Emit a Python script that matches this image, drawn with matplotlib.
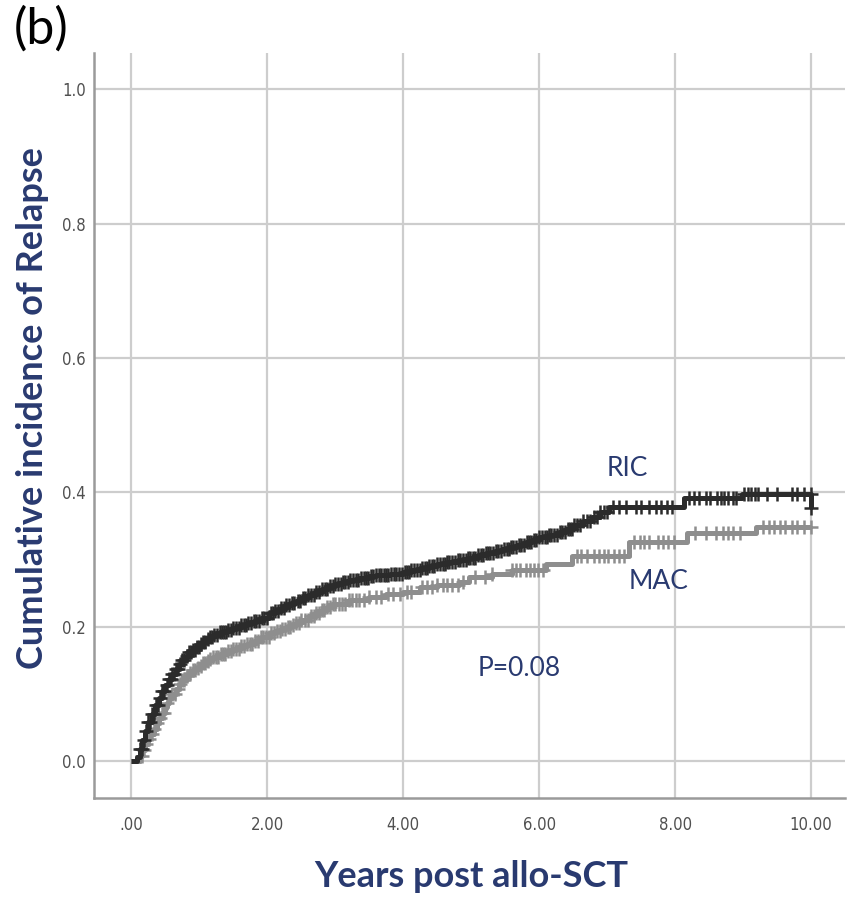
import numpy as np
import matplotlib.pyplot as plt

# cumulative incidence of relapse, step knots (years, incidence)
ric_times = [0.0, 0.05, 0.08, 0.12, 0.16, 0.2, 0.25, 0.3, 0.35, 0.4, 0.45, 0.5, 0.55, 0.6,
             0.65, 0.7, 0.75, 0.8, 0.85, 0.9, 0.95, 1.0, 1.05, 1.1, 1.15, 1.2, 1.3, 1.4,
             1.5, 1.6, 1.7, 1.8, 1.9, 2.03, 2.12, 2.2, 2.28, 2.35, 2.42, 2.5, 2.6, 2.7,
             2.8, 2.9, 3.0, 3.1, 3.2, 3.35, 3.5, 3.6, 3.8, 4.0, 4.12, 4.25, 4.38, 4.5,
             4.65, 4.8, 4.95, 5.1, 5.22, 5.35, 5.45, 5.56, 5.68, 5.8, 5.9, 6.0, 6.15, 6.29,
             6.4, 6.5, 6.65, 6.78, 6.9, 7.03, 8.13, 8.99, 10.0]
ric_cif = [0.0, 0.0, 0.006, 0.018, 0.032, 0.045, 0.058, 0.07, 0.083, 0.094, 0.104, 0.113, 0.122, 0.13,
           0.137, 0.144, 0.151, 0.157, 0.162, 0.166, 0.17, 0.174, 0.178, 0.181, 0.184, 0.187, 0.192, 0.195,
           0.198, 0.202, 0.205, 0.209, 0.213, 0.22, 0.224, 0.228, 0.232, 0.236, 0.239, 0.243, 0.247, 0.251,
           0.256, 0.26, 0.264, 0.267, 0.27, 0.273, 0.275, 0.277, 0.279, 0.282, 0.285, 0.288, 0.29, 0.293,
           0.296, 0.299, 0.303, 0.307, 0.31, 0.313, 0.315, 0.318, 0.322, 0.326, 0.329, 0.333, 0.337, 0.341,
           0.346, 0.352, 0.358, 0.364, 0.371, 0.378, 0.391, 0.398, 0.376]

mac_times = [0.0, 0.08, 0.12, 0.16, 0.2, 0.24, 0.28, 0.33, 0.37, 0.41, 0.45, 0.49, 0.52, 0.56,
             0.6, 0.65, 0.7, 0.75, 0.8, 0.85, 0.9, 0.95, 1.0, 1.05, 1.1, 1.15, 1.2, 1.3,
             1.4, 1.5, 1.6, 1.7, 1.8, 1.9, 2.03, 2.12, 2.2, 2.28, 2.35, 2.42, 2.5, 2.62,
             2.72, 2.8, 2.88, 2.95, 3.2, 3.5, 3.75, 4.0, 4.24, 4.5, 4.82, 4.97, 5.3, 5.6,
             6.1, 6.49, 7.32, 8.18, 9.19, 10.0]
mac_cif = [0.0, 0.0, 0.007, 0.016, 0.025, 0.033, 0.04, 0.048, 0.056, 0.064, 0.072, 0.08, 0.087, 0.094,
           0.1, 0.107, 0.114, 0.12, 0.126, 0.131, 0.135, 0.139, 0.142, 0.146, 0.149, 0.152, 0.155, 0.16,
           0.164, 0.167, 0.171, 0.175, 0.179, 0.184, 0.19, 0.193, 0.196, 0.199, 0.202, 0.206, 0.21, 0.216,
           0.221, 0.225, 0.23, 0.234, 0.24, 0.244, 0.248, 0.252, 0.259, 0.262, 0.266, 0.274, 0.279, 0.285,
           0.294, 0.305, 0.326, 0.339, 0.348, 0.348]

# censored observations (years)
ric_censored = [0.12, 0.15, 0.18, 0.22, 0.25, 0.28, 0.3, 0.33, 0.36, 0.39, 0.42, 0.45, 0.48, 0.52,
                0.55, 0.58, 0.6, 0.63, 0.66, 0.69, 0.72, 0.75, 0.78, 0.82, 0.85, 0.88, 0.9, 0.93,
                0.96, 0.99, 1.02, 1.05, 1.08, 1.12, 1.15, 1.18, 1.22, 1.26, 1.3, 1.33, 1.36, 1.39,
                1.42, 1.46, 1.5, 1.54, 1.58, 1.62, 1.65, 1.68, 1.72, 1.76, 1.8, 1.84, 1.88, 1.92,
                1.95, 2.0, 2.05, 2.08, 2.12, 2.16, 2.2, 2.24, 2.28, 2.32, 2.36, 2.4, 2.45, 2.48,
                2.52, 2.56, 2.6, 2.64, 2.68, 2.72, 2.76, 2.8, 2.85, 2.88, 2.92, 2.96, 3.0, 3.04,
                3.08, 3.12, 3.15, 3.18, 3.22, 3.26, 3.3, 3.34, 3.38, 3.42, 3.45, 3.48, 3.52, 3.56,
                3.6, 3.64, 3.68, 3.72, 3.75, 3.78, 3.82, 3.86, 3.9, 3.94, 3.98, 4.02, 4.05, 4.08,
                4.12, 4.16, 4.2, 4.24, 4.28, 4.32, 4.35, 4.38, 4.42, 4.46, 4.5, 4.54, 4.58, 4.62,
                4.65, 4.68, 4.72, 4.76, 4.8, 4.84, 4.88, 4.92, 4.95, 4.98, 5.02, 5.06, 5.1, 5.14,
                5.18, 5.22, 5.25, 5.28, 5.32, 5.36, 5.4, 5.44, 5.48, 5.52, 5.55, 5.58, 5.62, 5.66,
                5.7, 5.74, 5.78, 5.82, 5.85, 5.88, 5.92, 5.96, 6.0, 6.04, 6.08, 6.12, 6.15, 6.18,
                6.22, 6.26, 6.3, 6.34, 6.38, 6.42, 6.45, 6.48, 6.52, 6.56, 6.6, 6.65, 6.7, 6.75,
                6.8, 6.85, 6.9, 6.95, 7.0, 7.08, 7.18, 7.28, 7.42, 7.5, 7.62, 7.72, 7.8, 7.88,
                7.95, 8.2, 8.28, 8.35, 8.45, 8.52, 8.62, 8.68, 8.72, 8.78, 8.85, 8.9, 9.02, 9.08,
                9.12, 9.18, 9.22, 9.35, 9.5, 9.72, 9.8, 9.9, 10.0]
mac_censored = [0.15, 0.19, 0.22, 0.26, 0.3, 0.34, 0.38, 0.42, 0.45, 0.48, 0.52, 0.56, 0.6, 0.64,
                0.68, 0.72, 0.75, 0.78, 0.82, 0.86, 0.9, 0.94, 0.98, 1.02, 1.05, 1.08, 1.12, 1.16,
                1.2, 1.24, 1.28, 1.32, 1.35, 1.38, 1.42, 1.46, 1.5, 1.54, 1.58, 1.62, 1.66, 1.7,
                1.74, 1.78, 1.82, 1.86, 1.9, 1.94, 1.98, 2.02, 2.06, 2.1, 2.14, 2.18, 2.22, 2.26,
                2.3, 2.34, 2.38, 2.42, 2.46, 2.5, 2.55, 2.6, 2.64, 2.68, 2.72, 2.76, 2.8, 2.84,
                2.88, 2.92, 2.96, 3.0, 3.05, 3.1, 3.15, 3.2, 3.25, 3.3, 3.35, 3.42, 3.5, 3.6,
                3.68, 3.78, 3.85, 3.95, 4.05, 4.12, 4.28, 4.35, 4.42, 4.5, 4.58, 4.65, 4.72, 4.8,
                4.88, 5.05, 5.2, 5.3, 5.6, 5.66, 5.72, 5.8, 5.86, 5.92, 5.98, 6.05, 6.55, 6.62,
                6.7, 6.8, 6.88, 6.95, 7.02, 7.1, 7.18, 7.25, 7.4, 7.48, 7.55, 7.62, 7.75, 7.82,
                7.9, 7.98, 8.3, 8.45, 8.6, 8.7, 8.78, 8.85, 8.95, 9.3, 9.38, 9.45, 9.55, 9.62,
                9.72, 9.8, 9.9, 10.0]

x_ticks = [0, 2, 4, 6, 8, 10]
x_ticklabels = ['.00', '2.00', '4.00', '6.00', '8.00', '10.00']
y_ticks = [0.0, 0.2, 0.4, 0.6, 0.8, 1.0]
y_ticklabels = ['0.0', '0.2', '0.4', '0.6', '0.8', '1.0']

navy = '#293a70'
ric_color = '#2b2b2b'
mac_color = '#8e8e8e'


def value_at(times, values, t):
    idx = np.searchsorted(times, t, side='right') - 1
    return np.asarray(values)[idx]


fig = plt.figure(figsize=(8.5, 9), dpi=100)
ax = fig.add_axes([0.1106, 0.1133, 0.8835, 0.8278])

ax.set_xlim(-0.55, 10.5)
ax.set_ylim(-0.055, 1.054)

ax.set_xticks(x_ticks)
ax.set_xticklabels(x_ticklabels)
ax.set_yticks(y_ticks)
ax.set_yticklabels(y_ticklabels)
ax.grid(True, color='#cdcdcd', linewidth=1.6)
ax.set_axisbelow(True)
ax.tick_params(length=0, labelsize=12, labelcolor='#505050')
ax.tick_params(axis='x', pad=13)
ax.tick_params(axis='y', pad=6)
for lbl in ax.get_xticklabels() + ax.get_yticklabels():
    lbl.set_family(['DejaVu Sans'])
    lbl.set_stretch('condensed')

for side in ['top', 'right']:
    ax.spines[side].set_visible(False)
for side in ['left', 'bottom']:
    ax.spines[side].set_color('#9a9a9a')
    ax.spines[side].set_linewidth(1.8)

# MAC first so RIC sits on top
for times, vals, cens, col in [(mac_times, mac_cif, mac_censored, mac_color),
                               (ric_times, ric_cif, ric_censored, ric_color)]:
    ax.step(times, vals, where='post', color=col, linewidth=3.6, solid_capstyle='butt')
    cy = value_at(times, vals, cens)
    ax.plot(cens, cy, linestyle='none', marker='+', markersize=10,
            markeredgewidth=1.8, color=col)

# extra end mark on RIC before its final drop
ax.plot([10.0], [value_at(ric_times, ric_cif, 9.99)], linestyle='none', marker='+',
        markersize=10, markeredgewidth=1.8, color=ric_color)

txt_font = ['Lato', 'DejaVu Sans']
ax.text(7.3, 0.435, 'RIC', color=navy, fontsize=19, ha='center', va='center', family=txt_font)
ax.text(7.76, 0.268, 'MAC', color=navy, fontsize=19, ha='center', va='center', family=txt_font)
ax.text(5.7, 0.138, 'P=0.08', color=navy, fontsize=19, ha='center', va='center', family=txt_font)

fig.text(0.554, 0.026, 'Years post allo-SCT', color=navy, fontsize=26, fontweight='bold',
         ha='center', va='center', family=txt_font)
fig.text(0.038, 0.547, 'Cumulative incidence of Relapse', color=navy, fontsize=26,
         fontweight='bold', ha='center', va='center', rotation=90, family=txt_font)
fig.text(0.016, 0.968, '(b)', color='black', fontsize=36, ha='left', va='center',
         family=txt_font)

fig.savefig('out.png', dpi=100)
